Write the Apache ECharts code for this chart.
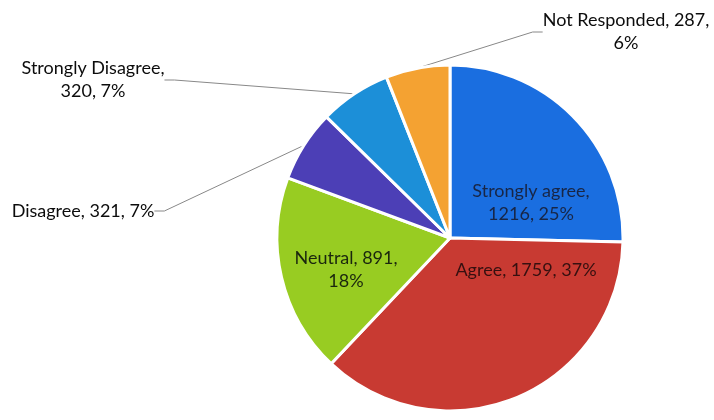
<!DOCTYPE html>
<html>
<head>
<meta charset="utf-8">
<script src="https://cdn.jsdelivr.net/npm/echarts@6/dist/echarts.min.js"></script>
<style>
html,body{margin:0;padding:0;background:#fff;}
#chart{width:714px;height:420px;}
</style>
</head>
<body>
<div id="chart"></div>
<script>
const categories = ['Strongly agree', 'Agree', 'Neutral', 'Disagree', 'Strongly Disagree', 'Not Responded'];
const values = [1216, 1759, 891, 321, 320, 287];
const percentLabels = ['25%', '37%', '18%', '7%', '7%', '6%'];
const labelTexts = [
  'Strongly agree,\n1216, 25%',
  'Agree, 1759, 37%',
  'Neutral, 891,\n18%',
  'Disagree, 321, 7%',
  'Strongly Disagree,\n320, 7%',
  'Not Responded, 287,\n6%'
];

const colors = ['#1a6ee0', '#c83a32', '#98cc22', '#4c3fb6', '#1c8fd8', '#f4a232'];
const insideSet = [true, true, true, false, false, false];
// label anchor positions (center of text block)
const labelPos = [
  [531, 203],
  [526, 270],
  [346, 270],
  [83, 211],
  [93, 80],
  [626, 32]
];
const textColors = ['#182646', '#361010', '#1a260e', '#0c0c0c', '#0c0c0c', '#0c0c0c'];

const data = categories.map((c, i) => ({
  name: c,
  value: values[i],
  itemStyle: { color: colors[i] },
  label: { color: textColors[i] },
  labelLine: { show: !insideSet[i] }
}));

const chart = echarts.init(document.getElementById('chart'), null, { renderer: 'canvas' });
chart.setOption({
  animation: false,
  series: [{
    type: 'pie',
    center: [450, 238],
    radius: [0, 173],
    startAngle: 90,
    clockwise: true,
    data: data,
    itemStyle: { borderColor: '#fff', borderWidth: 3 },
    label: {
      show: true,
      position: 'outside',
      fontFamily: 'Lato',
      fontSize: 18,
      lineHeight: 23,
      align: 'center',
      overflow: 'none',
      formatter: p => labelTexts[p.dataIndex]
    },
    labelLine: {
      show: true,
      length: 10,
      length2: 10,
      lineStyle: { color: '#888', width: 1 }
    },
    labelLayout: function (params) {
      const i = params.dataIndex;
      return {
        x: labelPos[i][0],
        y: labelPos[i][1],
        align: 'center',
        verticalAlign: 'middle'
      };
    }
  }]
});
</script>
</body>
</html>
